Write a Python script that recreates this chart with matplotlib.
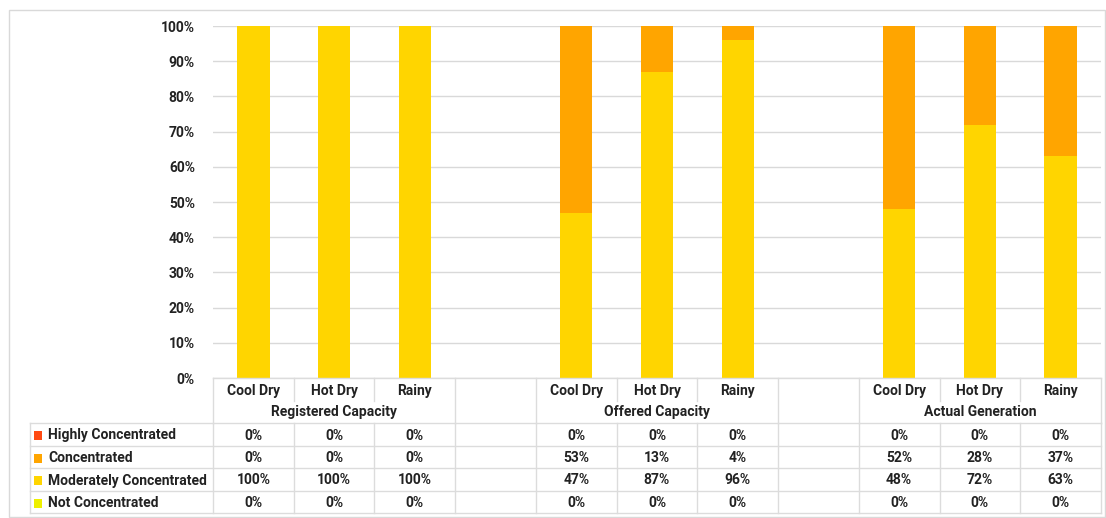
import matplotlib
matplotlib.use("Agg")
import matplotlib.pyplot as plt
from matplotlib.patches import Rectangle
import numpy as np

plt.rcParams['font.family'] = ['Roboto', 'DejaVu Sans']
plt.rcParams['font.weight'] = 'bold'

groups = ['Registered Capacity', 'Offered Capacity', 'Actual Generation']
seasons = ['Cool Dry', 'Hot Dry', 'Rainy']

series_names = ['Highly Concentrated', 'Concentrated', 'Moderately Concentrated', 'Not Concentrated']
highly = [0, 0, 0, 0, 0, 0, 0, 0, 0]
concentrated = [0, 0, 0, 53, 13, 4, 52, 28, 37]
moderately = [100, 100, 100, 47, 87, 96, 48, 72, 63]
not_conc = [0, 0, 0, 0, 0, 0, 0, 0, 0]
series_values = [highly, concentrated, moderately, not_conc]
series_colors = ['#FF4A12', '#FFA500', '#FFD500', '#EEF000']

FS = 10
TXT = '#222222'

W, H = 1106, 518
fig = plt.figure(figsize=(W / 100, H / 100), dpi=100)
fig.patch.set_facecolor('white')

# plot area in pixels
L, R, T, B = 213, 1101, 26, 378
ax = fig.add_axes([L / W, 1 - B / H, (R - L) / W, (B - T) / H])

# slot positions: three seasons per group with one empty slot between groups
positions = [g * 4 + s for g in range(len(groups)) for s in range(len(seasons))]
n_slots = len(groups) * 4 - 1

bottom = np.zeros(len(positions))
for name, vals, col in reversed(list(zip(series_names, series_values, series_colors))):
    v = np.array(vals, dtype=float)
    ax.bar(positions, v, bottom=bottom, width=0.4, color=col, edgecolor='none', zorder=3)
    bottom += v

ax.set_xlim(-0.5, n_slots - 0.5)
ax.set_ylim(0, 100)
ax.set_yticks(np.arange(0, 101, 10))
ax.set_yticklabels([f'{t}%' for t in range(0, 101, 10)], fontsize=FS, fontweight='bold', color=TXT)
ax.tick_params(axis='y', length=0, pad=13)
ax.set_xticks([])
ax.grid(axis='y', color='#D9D9D9', linewidth=1, zorder=0)
for s in ax.spines.values():
    s.set_visible(False)

# table below the plot, x in data units, y in pixels
to_fig = fig.transFigure


def px(x, y):
    return x / W, 1 - y / H


def xdata_to_px(x):
    return ax.transData.transform((x, 0))[0]


line_kw = dict(color='#DCDCDC', linewidth=1, transform=to_fig, zorder=1)


def hline(x0, x1, y):
    fig.add_artist(plt.Line2D([x0 / W, x1 / W], [1 - y / H, 1 - y / H], **line_kw))


def vline(x, y0, y1):
    fig.add_artist(plt.Line2D([x / W, x / W], [1 - y0 / H, 1 - y1 / H], **line_kw))


row_edges = [423, 446, 468, 491, 513]
cat_y, grp_y = 391, 412
legend_left = 30

slot_edges = [xdata_to_px(i - 0.5) for i in range(n_slots + 1)]

# header borders
hline(L, R, 378)
for g in range(len(groups)):
    x0 = slot_edges[g * 4]
    x1 = slot_edges[g * 4 + 3]
    vline(x0, 378, 423)
    vline(x1, 378, 423)
    for s in range(1, len(seasons)):
        vline(slot_edges[g * 4 + s], 378, 401)
    cx = (x0 + x1) / 2
    fig.text(*px(cx, grp_y), groups[g], ha='center', va='center', fontsize=FS,
             fontweight='bold', color=TXT)

for i, pos in enumerate(positions):
    cx = xdata_to_px(pos)
    fig.text(*px(cx, cat_y), seasons[i % 3], ha='center', va='center', fontsize=FS,
             fontweight='bold', color=TXT)

# body borders
for y in row_edges:
    hline(legend_left, R, y)
vline(legend_left, row_edges[0], row_edges[-1])
for x in slot_edges:
    vline(x, row_edges[0], row_edges[-1])

for r, (name, vals, col) in enumerate(zip(series_names, series_values, series_colors)):
    cy = (row_edges[r] + row_edges[r + 1]) / 2 + 1
    fig.add_artist(Rectangle(px(34, cy + 4.5), 8 / W, 9 / H, transform=to_fig,
                             facecolor=col, edgecolor='none'))
    fig.text(*px(48, cy), name, ha='left', va='center', fontsize=FS,
             fontweight='bold', color=TXT)
    for pos, v in zip(positions, vals):
        fig.text(*px(xdata_to_px(pos), cy), f'{v}%', ha='center', va='center',
                 fontsize=FS, fontweight='bold', color=TXT)

# chart area border
fig.add_artist(Rectangle(px(9, 517), (1105 - 9) / W, (517 - 10) / H, transform=to_fig,
                         facecolor='none', edgecolor='#D9D9D9', linewidth=1))

fig.savefig('out.png', dpi=100, facecolor='white')
